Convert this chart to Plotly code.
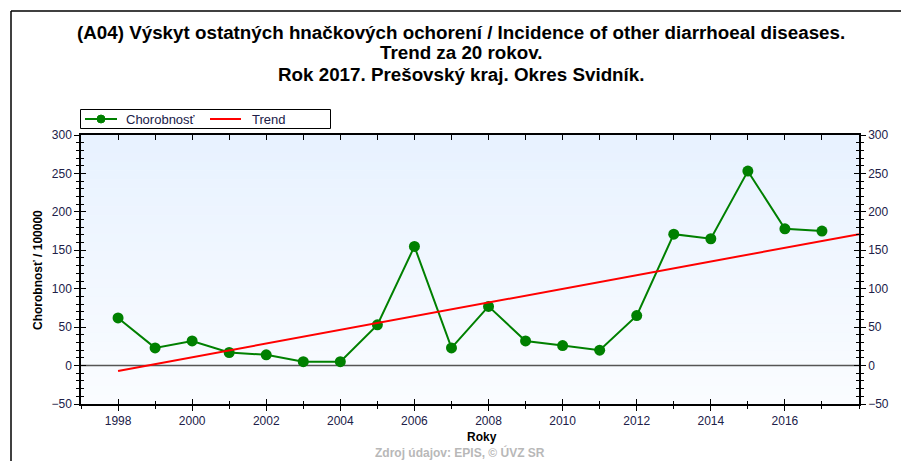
import plotly.graph_objects as go

years = list(range(1998, 2018))
chorobnost = [62, 23, 32, 17, 14, 5, 5, 53, 155, 23, 77, 32, 26, 20, 65, 171, 165, 253, 178, 175]
trend_x = [1998, 2018]
trend_y = [-7, 171]
x_tickvals = list(range(1998, 2018, 2))
legend_names = ["Chorobnosť", "Trend"]
title_lines = [
    "(A04) Výskyt ostatných hnačkových ochorení / Incidence of other diarrhoeal diseases.",
    "Trend za 20 rokov.",
    "Rok 2017. Prešovský kraj. Okres Svidník.",
]

W, H = 901, 461
# plot area in page pixels: left 81, right 859, top 135, bottom 404
L, R, T, B = 81, 901 - 859, 135, 461 - 404
pw, ph = W - L - R, H - T - B

def px_x(x):  # page pixel -> paper
    return (x - L) / pw

def px_y(y):
    return (H - B - y) / ph

tickfont = dict(family="Liberation Sans, Arial", size=12, color="#202048")
GREEN, RED = "#008000", "#ff0000"

fig = go.Figure()

fig.add_trace(go.Scatter(x=years, y=chorobnost, mode="lines+markers", name=legend_names[0],
                         line=dict(color=GREEN, width=2),
                         marker=dict(color=GREEN, size=11), showlegend=False))
fig.add_trace(go.Scatter(x=trend_x, y=trend_y, mode="lines", name=legend_names[1],
                         line=dict(color=RED, width=2), showlegend=False))
# invisible helpers for extra tick axes
for xa, ya in [("x2", "y2"), ("x3", "y3"), ("x", "y4")]:
    fig.add_trace(go.Scatter(x=[1998], y=[0], xaxis=xa, yaxis=ya, mode="markers",
                             marker=dict(opacity=0), showlegend=False, hoverinfo="skip"))

xr = [1997, 2018]
yr = [-50, 300]

common_y = dict(range=yr, dtick=50, tick0=0, showgrid=False, zeroline=False,
                tickcolor="black", ticklen=5, tickwidth=1, linecolor="black", linewidth=1.5,
                tickfont=tickfont, fixedrange=True)

fig.update_layout(
    width=W, height=H,
    margin=dict(l=L, r=R, t=T, b=B),
    paper_bgcolor="white",
    plot_bgcolor="#f1f7ff",
    font=dict(family="Liberation Sans, Arial", color="black"),
    showlegend=False,
    xaxis=dict(range=xr, tickvals=x_tickvals, ticks="outside", ticklen=5, tickcolor="black",
               showgrid=False, zeroline=False, showline=True, linecolor="black", linewidth=1.5,
               tickfont=tickfont,
               minor=dict(dtick=1, tick0=1998, ticks="outside", ticklen=3, tickcolor="black")),
    xaxis3=dict(range=xr, overlaying="x", anchor="y", side="bottom", tickvals=x_tickvals,
                ticks="inside", ticklen=5, tickcolor="black", showticklabels=False,
                showgrid=False, zeroline=False, showline=False,
                minor=dict(dtick=1, tick0=1998, ticks="inside", ticklen=3, tickcolor="black")),
    xaxis2=dict(range=xr, overlaying="x", anchor="y", side="top", dtick=1, tick0=1998,
                ticks="inside", ticklen=5, tickcolor="black", showticklabels=False,
                showgrid=False, zeroline=False, showline=True, linecolor="black", linewidth=1.5),
    yaxis=dict(**common_y, side="left", ticks="outside", showline=True,
               minor=dict(dtick=10, ticks="outside", ticklen=3, tickcolor="black")),
    yaxis4=dict(**common_y, side="left", overlaying="y", anchor="x", ticks="inside",
                showline=False, showticklabels=False,
                minor=dict(dtick=10, ticks="inside", ticklen=3, tickcolor="black")),
    yaxis2=dict(**common_y, side="right", overlaying="y", anchor="x2", ticks="outside",
                showline=True,
                minor=dict(dtick=10, ticks="outside", ticklen=3, tickcolor="black")),
    yaxis3=dict(**common_y, side="right", overlaying="y", anchor="x3", ticks="inside",
                showline=False, showticklabels=False,
                minor=dict(dtick=10, ticks="inside", ticklen=3, tickcolor="black")),
)

# gradient background bands
n = 30
for i in range(n):
    f = i / n
    r0 = int(0xe8 + (0xfb - 0xe8) * f)
    g0 = int(0xf2 + (0xfd - 0xf2) * f)
    fig.add_shape(type="rect", xref="paper", yref="paper", x0=0, x1=1,
                  y0=1 - (i + 1) / n, y1=1 - i / n, line=dict(width=0),
                  fillcolor=f"rgb({r0},{g0},255)", layer="below")

# zero line
fig.add_shape(type="line", xref="paper", yref="y", x0=0, x1=1, y0=0, y1=0,
              line=dict(color="#555555", width=1.5), layer="below")

# outer frame (left and top)
fig.add_shape(type="line", xref="paper", yref="paper", x0=px_x(11), x1=px_x(11),
              y0=px_y(11), y1=px_y(475), line=dict(color="black", width=1.5))
fig.add_shape(type="line", xref="paper", yref="paper", x0=px_x(11), x1=px_x(915),
              y0=px_y(11), y1=px_y(11), line=dict(color="black", width=1.5))

# legend box drawn by hand
fig.add_shape(type="rect", xref="paper", yref="paper", x0=px_x(80.5), x1=px_x(330.5),
              y0=px_y(128.5), y1=px_y(109.5), line=dict(color="black", width=1),
              fillcolor="white")
lg_font = dict(family="Liberation Sans, Arial", size=13, color="#202048")
fig.add_shape(type="line", xref="paper", yref="paper", x0=px_x(85), x1=px_x(117),
              y0=px_y(119), y1=px_y(119), line=dict(color=GREEN, width=2))
fig.add_shape(type="circle", xref="paper", yref="paper", x0=px_x(97), x1=px_x(105),
              y0=px_y(123), y1=px_y(115), line=dict(color=GREEN, width=1), fillcolor=GREEN)
fig.add_annotation(text=legend_names[0], xref="paper", yref="paper", x=px_x(124), y=px_y(119),
                   xanchor="left", yanchor="middle", showarrow=False, font=lg_font)
fig.add_shape(type="line", xref="paper", yref="paper", x0=px_x(210), x1=px_x(241),
              y0=px_y(119), y1=px_y(119), line=dict(color=RED, width=2))
fig.add_annotation(text=legend_names[1], xref="paper", yref="paper", x=px_x(250), y=px_y(119),
                   xanchor="left", yanchor="middle", showarrow=False, font=lg_font)

tfont = dict(family="Liberation Sans, Arial", size=18.8, color="black")
for yy, txt in zip([32, 53, 74], title_lines):
    fig.add_annotation(text=f"<b>{txt}</b>", xref="paper", yref="paper",
                       x=px_x(461), y=px_y(yy), xanchor="center", yanchor="middle",
                       showarrow=False, font=tfont)

fig.add_annotation(text="<b>Chorobnosť / 100000</b>", xref="paper", yref="paper",
                   x=px_x(38), y=px_y(270), textangle=-90, xanchor="center", yanchor="middle",
                   showarrow=False, font=dict(family="Liberation Sans, Arial", size=12, color="black"))
fig.add_annotation(text="<b>Roky</b>", xref="paper", yref="paper",
                   x=px_x(482), y=px_y(437), xanchor="center", yanchor="middle",
                   showarrow=False, font=dict(family="Liberation Sans, Arial", size=12, color="black"))
fig.add_annotation(text="<b>Zdroj údajov: EPIS, © ÚVZ SR</b>", xref="paper", yref="paper",
                   x=px_x(460), y=px_y(452), xanchor="center", yanchor="middle",
                   showarrow=False, font=dict(family="Liberation Sans, Arial", size=12, color="#b8b8b8"))

fig.write_html("out.html", config={"displayModeBar": False},
               post_script="document.body.style.margin='0px';")
